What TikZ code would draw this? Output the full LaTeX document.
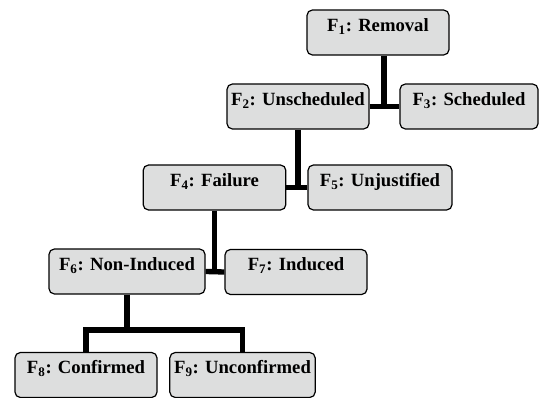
\documentclass[tikz,border=0pt]{standalone}
\usepackage{fontspec}
\setmainfont{Liberation Serif}
\definecolor{boxgray}{RGB}{221,222,222}

\begin{document}
\begin{tikzpicture}[
  x=0.75pt, y=-0.75pt,
  f/.style={rectangle, rounded corners=4pt, draw=black, line width=0.9pt,
    fill=boxgray, font=\fontsize{14}{16}\selectfont\bfseries,
    inner xsep=2pt, inner ysep=0pt, text height=16pt, text depth=17.7pt,
    minimum width=#1},
  f/.default=106pt,
  link/.style={line width=4pt, black}
]
\useasboundingbox (0,0) rectangle (539,398);

% --- boxes ---
\node[f=106.5pt] (F1) at (378,32.5)  {F\textsubscript{1}: Removal};
\node[f=106.5pt] (F2) at (298,106.5) {F\textsubscript{2}: Unscheduled};
\node[f=103.5pt] (F3) at (469,106.5) {F\textsubscript{3}: Scheduled};
\node[f=107pt]   (F4) at (214.5,187.5) {F\textsubscript{4}: Failure};
\node[f=108pt]   (F5) at (380,187.5) {F\textsubscript{5}: Unjustified};
\node[f=117pt]   (F6) at (127,271.5) {F\textsubscript{6}: Non-Induced};
\node[f=106.5pt] (F7) at (296,272)   {F\textsubscript{7}: Induced};
\node[f=106.5pt] (F8) at (86,375)    {F\textsubscript{8}: Confirmed};
\node[f=109pt]   (F9) at (242.5,375) {F\textsubscript{9}: Unconfirmed};

% --- links ---
\draw[link] (F2.east) -- (F3.west);
\draw[link] ([xshift=4.5pt]F1.south) -- ([xshift=4.5pt]F1.south |- F2.east);
\draw[link] (F4.east) -- (F5.west);
\draw[link] (F2.south) -- (F2.south |- F4.east);
\draw[link] (F6.east) -- (F7.west);
\draw[link] (F4.south) -- (F4.south |- F6.east);

\coordinate (bar) at (126,330);
\draw[link] (F6.south) -- (F6.south |- bar);
\draw[link] (F8.north) |- (bar) -| (F9.north);

\end{tikzpicture}
\end{document}
